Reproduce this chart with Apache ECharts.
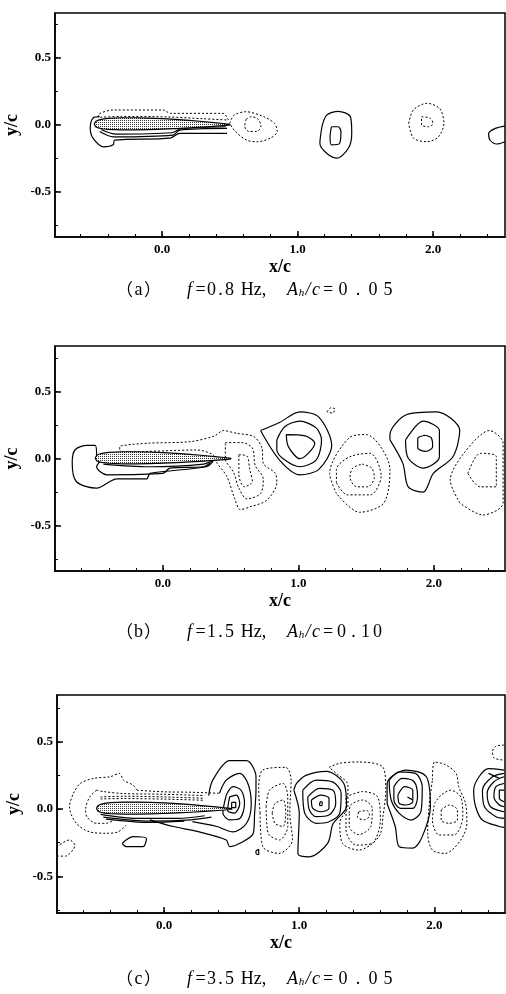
<!DOCTYPE html>
<html>
<head>
<meta charset="utf-8">
<script src="https://cdn.jsdelivr.net/npm/echarts@6/dist/echarts.min.js"></script>
<style>
  html, body { margin: 0; padding: 0; background: #fff; }
  #chart { width: 506px; height: 994px; }
</style>
</head>
<body>
<div id="chart"></div>
<script>
// ---- axes ----
const xMinorTicks = [-0.6, -0.4, -0.2, 0, 0.2, 0.4, 0.6, 0.8, 1.0, 1.2, 1.4, 1.6, 1.8, 2.0, 2.2, 2.4];
const xMajorTicks = [0, 1, 2];
const yMinorTicks = [-0.75, -0.5, -0.25, 0, 0.25, 0.5, 0.75];
const yMajorTicks = [-0.5, 0, 0.5];

// ---- airfoil (chord -0.5 .. 0.5) ----
const foilX  = [-0.5, -0.49, -0.47, -0.44, -0.4, -0.3, -0.2, -0.1, 0.0, 0.1, 0.2, 0.3, 0.4, 0.45, 0.5];
const foilUp = [0.005, 0.025, 0.035, 0.042, 0.047, 0.052, 0.052, 0.05, 0.046, 0.04, 0.033, 0.024, 0.014, 0.009, 0.003];
const foilLo = [0.005, -0.015, -0.024, -0.03, -0.034, -0.038, -0.038, -0.036, -0.033, -0.029, -0.024, -0.018, -0.011, -0.007, -0.002];

// ---- captions ----
const captions = [
  { tag: 'a', f: '0.8', amp: '0.05' },
  { tag: 'b', f: '1.5', amp: '0.10' },
  { tag: 'c', f: '3.5', amp: '0.05' },
];

// ---- (a) f=0.8Hz ----
const aSolid = [
  [[-0.46, 0.06], [-0.51, 0.05], [-0.53, -0.025], [-0.51, -0.10], [-0.43, -0.165], [-0.36, -0.15], [-0.35, -0.115], [0.06, -0.10], [0.13, -0.065], [0.48, -0.065]],
  [[-0.46, -0.05], [-0.36, -0.09], [0.08, -0.077], [0.13, -0.04], [0.48, -0.027]],
  [[-0.45, -0.035], [-0.34, -0.07], [0.07, -0.06], [0.14, -0.03], [0.47, -0.015]],
  [[1.18, -0.015], [1.215, 0.072], [1.30, 0.10], [1.39, 0.06], [1.40, -0.065], [1.375, -0.176], [1.29, -0.25], [1.215, -0.213], [1.165, -0.14], [1.18, -0.015]],
  [[1.25, -0.015], [1.30, -0.015], [1.32, -0.052], [1.31, -0.14], [1.25, -0.15], [1.24, -0.09], [1.25, -0.015]],
  [[2.53, -0.01], [2.46, -0.027], [2.41, -0.065], [2.42, -0.114], [2.47, -0.144], [2.53, -0.127]],
];
const aDashed = [
  [[-0.47, 0.055], [-0.47, 0.072], [-0.36, 0.11], [0.01, 0.11], [0.06, 0.085], [0.45, 0.085], [0.49, 0.035], [0.3, 0.045], [0.05, 0.058], [-0.3, 0.062], [-0.47, 0.055]],
  [[0.50, 0.01], [0.53, 0.07], [0.62, 0.097], [0.75, 0.06], [0.83, 0.01], [0.85, -0.05], [0.80, -0.10], [0.70, -0.127], [0.625, -0.115], [0.54, -0.05], [0.50, 0.01]],
  [[0.62, 0.04], [0.66, 0.06], [0.71, 0.04], [0.73, -0.01], [0.70, -0.05], [0.64, -0.05], [0.61, -0.01], [0.62, 0.04]],
  [[1.82, 0.01], [1.855, 0.11], [1.955, 0.16], [2.05, 0.12], [2.08, 0.01], [2.04, -0.09], [1.955, -0.127], [1.855, -0.10], [1.82, 0.01]],
  [[1.915, 0.06], [1.98, 0.048], [2.0, 0.01], [1.965, -0.015], [1.915, 0.0], [1.915, 0.06]],
];

// ---- (b) f=1.5Hz ----
const bSolid = [
  [[-0.49, 0.02], [-0.50, 0.10], [-0.56, 0.10], [-0.65, 0.065], [-0.67, -0.03], [-0.64, -0.17], [-0.49, -0.22], [-0.34, -0.15], [-0.12, -0.15], [-0.096, -0.11], [0.32, -0.06], [0.37, -0.02]],
  [[-0.465, -0.02], [-0.49, -0.06], [-0.415, -0.12], [0.0, -0.11], [0.05, -0.07], [0.30, -0.06], [0.35, -0.03]],
  [[-0.44, -0.04], [-0.1, -0.06], [0.3, -0.04], [0.38, -0.01]],
  [[0.72, 0.21], [0.86, 0.27], [1.01, 0.35], [1.15, 0.31], [1.245, 0.10], [1.15, -0.08], [1.01, -0.12], [0.86, -0.01], [0.72, 0.21]],
  [[0.84, 0.14], [0.90, 0.24], [1.01, 0.28], [1.13, 0.23], [1.17, 0.14], [1.13, -0.01], [1.01, -0.06], [0.84, 0.065], [0.84, 0.14]],
  [[0.91, 0.18], [1.05, 0.17], [1.12, 0.115], [1.01, 0.0], [0.925, 0.09], [0.91, 0.18]],
  [[1.675, 0.14], [1.675, 0.18], [1.80, 0.33], [2.02, 0.35], [2.19, 0.21], [2.14, 0.015], [1.995, -0.11], [1.92, -0.25], [1.81, -0.21], [1.77, -0.035], [1.675, 0.14]],
  [[1.79, 0.14], [1.92, 0.28], [2.04, 0.21], [2.04, 0.015], [1.92, -0.07], [1.81, 0.003], [1.79, 0.14]],
  [[1.93, 0.175], [1.98, 0.155], [1.99, 0.09], [1.94, 0.055], [1.88, 0.08], [1.88, 0.15], [1.93, 0.175]],
];
const bDashed = [
  [[-0.32, 0.07], [-0.32, 0.09], [-0.12, 0.115], [0.2, 0.127], [0.38, 0.17], [0.445, 0.21], [0.54, 0.19], [0.67, 0.165], [0.73, 0.08], [0.74, -0.035], [0.83, -0.11], [0.84, -0.18], [0.765, -0.31], [0.64, -0.36], [0.57, -0.38], [0.53, -0.30], [0.47, -0.13], [0.40, -0.035], [0.37, 0.028], [0.25, 0.065], [-0.29, 0.05], [-0.32, 0.07]],
  [[0.46, 0.12], [0.58, 0.12], [0.66, 0.08], [0.68, -0.05], [0.74, -0.15], [0.72, -0.26], [0.62, -0.30], [0.56, -0.22], [0.52, -0.10], [0.46, 0.0], [0.46, 0.12]],
  [[0.56, 0.03], [0.62, 0.02], [0.64, -0.08], [0.66, -0.17], [0.60, -0.21], [0.56, -0.12], [0.56, 0.03]],
  [[1.28, -0.26], [1.23, -0.11], [1.38, 0.16], [1.50, 0.18], [1.675, -0.08], [1.63, -0.33], [1.45, -0.40], [1.28, -0.26]],
  [[1.28, -0.18], [1.28, -0.08], [1.38, 0.015], [1.53, 0.04], [1.61, -0.13], [1.53, -0.27], [1.36, -0.27], [1.28, -0.18]],
  [[1.47, -0.04], [1.54, -0.07], [1.56, -0.14], [1.51, -0.21], [1.43, -0.21], [1.38, -0.14], [1.40, -0.07], [1.47, -0.04]],
  [[2.19, -0.33], [2.12, -0.16], [2.22, 0.04], [2.41, 0.21], [2.51, 0.115], [2.51, -0.33], [2.36, -0.42], [2.19, -0.33]],
  [[2.25, -0.11], [2.34, 0.04], [2.46, 0.015], [2.46, -0.21], [2.34, -0.21], [2.25, -0.11]],
  [[1.21, 0.35], [1.24, 0.38], [1.27, 0.37], [1.25, 0.34], [1.21, 0.35]],
];

// ---- (c) f=3.5Hz ----
const cSolid = [
  [[-0.47, -0.04], [-0.2, -0.07], [0.1, -0.07], [0.3, -0.05]],
  [[-0.45, -0.06], [-0.1, -0.09], [0.2, -0.08], [0.35, -0.06]],
  [[-0.43, -0.075], [-0.1, -0.1], [0.15, -0.09]],
  [[-0.31, -0.255], [-0.23, -0.205], [-0.13, -0.22], [-0.155, -0.28], [-0.28, -0.28], [-0.31, -0.255]],
  [[0.33, 0.10], [0.36, 0.215], [0.485, 0.36], [0.61, 0.36], [0.68, 0.24], [0.68, 0.14], [0.67, -0.03], [0.66, -0.18], [0.56, -0.255], [0.485, -0.28], [0.46, -0.23], [0.26, -0.17], [0.07, -0.13], [-0.105, -0.08]],
  [[0.41, 0.117], [0.46, 0.215], [0.56, 0.265], [0.62, 0.19], [0.645, 0.04], [0.61, -0.106], [0.51, -0.17], [0.39, -0.13], [0.21, -0.094]],
  [[0.46, 0.104], [0.51, 0.166], [0.57, 0.14], [0.595, 0.04], [0.56, -0.07], [0.485, -0.08], [0.435, -0.03], [0.46, 0.104]],
  [[0.485, 0.09], [0.535, 0.104], [0.56, 0.04], [0.52, -0.03], [0.47, -0.01], [0.485, 0.09]],
  [[0.50, 0.05], [0.53, 0.05], [0.53, 0.01], [0.50, 0.01], [0.50, 0.05]],
  [[0.96, 0.14], [0.98, 0.19], [1.05, 0.25], [1.20, 0.28], [1.33, 0.19], [1.35, 0.02], [1.25, -0.11], [1.21, -0.255], [1.075, -0.355], [0.99, -0.33], [1.0, -0.03], [0.96, 0.14]],
  [[1.026, 0.14], [1.125, 0.215], [1.25, 0.20], [1.31, 0.117], [1.30, -0.03], [1.22, -0.094], [1.125, -0.106], [1.04, -0.03], [1.026, 0.14]],
  [[1.063, 0.09], [1.15, 0.154], [1.25, 0.14], [1.27, 0.04], [1.22, -0.045], [1.125, -0.057], [1.075, -0.007], [1.063, 0.09]],
  [[1.09, 0.067], [1.16, 0.104], [1.22, 0.08], [1.22, 0.005], [1.16, -0.02], [1.10, 0.005], [1.09, 0.067]],
  [[1.155, 0.055], [1.17, 0.05], [1.165, 0.025], [1.15, 0.03], [1.155, 0.055]],
  [[1.65, 0.04], [1.65, 0.19], [1.79, 0.29], [1.94, 0.24], [1.97, 0.017], [1.91, -0.205], [1.84, -0.29], [1.74, -0.28], [1.71, -0.13], [1.65, 0.04]],
  [[1.665, 0.215], [1.74, 0.277], [1.86, 0.265], [1.91, 0.166], [1.90, -0.02], [1.826, -0.082], [1.74, -0.032], [1.68, 0.067], [1.665, 0.215]],
  [[1.70, 0.166], [1.76, 0.228], [1.85, 0.203], [1.875, 0.09], [1.84, 0.005], [1.75, 0.005], [1.70, 0.067], [1.70, 0.166]],
  [[1.73, 0.104], [1.78, 0.166], [1.84, 0.14], [1.84, 0.054], [1.79, 0.03], [1.74, 0.042], [1.73, 0.104]],
  [[1.80, 0.09], [1.835, 0.07]],
  [[2.515, 0.29], [2.40, 0.30], [2.33, 0.24], [2.29, 0.14], [2.305, 0.017], [2.355, -0.082], [2.48, -0.13], [2.515, -0.136]],
  [[2.515, 0.265], [2.43, 0.24], [2.355, 0.14], [2.37, 0.017], [2.455, -0.057], [2.515, -0.07]],
  [[2.515, 0.24], [2.44, 0.203], [2.39, 0.117], [2.415, 0.017], [2.515, -0.02]],
  [[2.515, 0.19], [2.455, 0.166], [2.44, 0.09], [2.48, 0.03], [2.515, 0.017]],
  [[2.515, 0.14], [2.48, 0.14], [2.48, 0.08], [2.515, 0.054]],
  [[2.40, 0.265], [2.48, 0.228]],
  [[0.68, -0.31], [0.70, -0.30], [0.70, -0.34], [0.68, -0.33], [0.68, -0.31]],
];
const cDashed = [
  [[-0.20, 0.14], [-0.23, 0.178], [-0.30, 0.215], [-0.33, 0.265], [-0.40, 0.24], [-0.52, 0.228], [-0.62, 0.19], [-0.67, 0.117], [-0.70, 0.017], [-0.65, -0.106], [-0.55, -0.17], [-0.425, -0.18], [-0.34, -0.17], [-0.28, -0.12]],
  [[-0.20, 0.14], [0.0, 0.128], [0.2, 0.125], [0.41, 0.117]],
  [[-0.50, 0.14], [-0.55, 0.09], [-0.58, 0.0], [-0.57, -0.06], [-0.50, -0.106], [-0.425, -0.106], [-0.37, -0.08]],
  [[-0.50, 0.14], [-0.45, 0.13], [-0.3, 0.115], [0.0, 0.11], [0.3, 0.1]],
  [[-0.47, 0.09], [-0.3, 0.095], [0.0, 0.09], [0.3, 0.08]],
  [[-0.47, 0.075], [-0.3, 0.078], [0.0, 0.074], [0.3, 0.065]],
  [[-0.795, -0.28], [-0.70, -0.23], [-0.66, -0.27], [-0.73, -0.35], [-0.795, -0.35]],
  [[0.71, -0.03], [0.70, 0.15], [0.73, 0.29], [0.90, 0.31], [0.94, 0.215], [0.93, -0.03], [0.95, -0.23], [0.85, -0.33], [0.73, -0.28], [0.71, -0.03]],
  [[0.755, 0.017], [0.78, 0.14], [0.88, 0.19], [0.915, 0.09], [0.915, -0.13], [0.855, -0.23], [0.77, -0.18], [0.755, 0.017]],
  [[0.80, -0.03], [0.82, 0.04], [0.88, 0.067], [0.90, -0.03], [0.88, -0.13], [0.82, -0.106], [0.80, -0.03]],
  [[1.22, 0.31], [1.30, 0.34], [1.44, 0.35], [1.62, 0.31], [1.64, 0.14], [1.62, -0.05], [1.59, -0.205], [1.44, -0.305], [1.32, -0.255], [1.30, -0.10], [1.36, 0.02], [1.36, 0.18], [1.28, 0.26], [1.22, 0.31]],
  [[1.346, 0.09], [1.47, 0.13], [1.58, 0.09], [1.60, -0.08], [1.54, -0.255], [1.42, -0.268], [1.346, -0.156], [1.346, 0.09]],
  [[1.37, -0.03], [1.38, 0.03], [1.47, 0.067], [1.54, 0.005], [1.53, -0.13], [1.44, -0.19], [1.37, -0.13], [1.37, -0.03]],
  [[1.44, -0.02], [1.50, -0.01], [1.52, -0.05], [1.48, -0.08], [1.43, -0.06], [1.44, -0.02]],
  [[1.985, 0.215], [2.0, 0.35], [2.08, 0.33], [2.16, 0.265], [2.18, 0.166], [2.23, 0.042], [2.24, -0.106], [2.195, -0.23], [2.08, -0.33], [1.985, -0.305], [1.95, -0.18], [1.96, 0.017], [1.985, 0.215]],
  [[2.0, 0.042], [2.05, 0.104], [2.12, 0.14], [2.195, 0.09], [2.21, -0.057], [2.145, -0.193], [2.035, -0.193], [1.985, -0.082], [2.0, 0.042]],
  [[2.05, -0.007], [2.11, 0.03], [2.17, -0.007], [2.17, -0.082], [2.11, -0.106], [2.05, -0.082], [2.05, -0.007]],
  [[2.515, 0.475], [2.46, 0.47], [2.43, 0.43], [2.44, 0.38], [2.515, 0.364]],
];

const panels = [
  { solid: aSolid, dashed: aDashed, top: 13, left: 55, height: 224, xMin: -0.79, xMax: 2.531, yMin: -0.838, yMax: 0.834, capTop: 281, numW: 15 },
  { solid: bSolid, dashed: bDashed, top: 346, left: 55, height: 225, xMin: -0.797, xMax: 2.524, yMin: -0.838, yMax: 0.841, capTop: 623, numW: 12 },
  { solid: cSolid, dashed: cDashed, top: 695, left: 57, height: 218, xMin: -0.792, xMax: 2.522, yMin: -0.773, yMax: 0.848, capTop: 970, numW: 15 },
];

// stipple used for the airfoil
const dots = document.createElement('canvas');
dots.width = 2;
dots.height = 2;
const dctx = dots.getContext('2d');
dctx.fillStyle = '#fff';
dctx.fillRect(0, 0, 2, 2);
dctx.fillStyle = '#333';
dctx.fillRect(0, 0, 1, 1);

const serif = "'Liberation Serif', 'DejaVu Serif', serif";
const cjk = "'Noto Sans CJK SC', 'Liberation Serif', serif";

// caption: each glyph gets its own box so the wide typesetting of the scan is kept
const captionText = (c) => {
  const chars = (s, tag) => s.split('').map((ch) => `{${ch === '.' ? tag + 'p' : tag}|${ch}}`).join('');
  return `{par|（}{t|${c.tag}}{par|）}{gap| }{it|f}{eq|=}${chars(c.f, 'd')}{hz|Hz,}{gap2| }`
    + `{A|A}{sub|h}{sl|/}{c|c}{eq2|=}${chars(c.amp, 'n')}`;
};
const captionRich = (numW) => {
  const base = { fontFamily: serif, fontSize: 18, fill: '#000', align: 'center' };
  const ital = { ...base, fontStyle: 'italic' };
  return {
    par: { ...base, fontFamily: cjk, fontSize: 17, width: 18 },
    t: { ...base, width: 10 },
    gap: { ...base, width: 23 },
    it: { ...ital, width: 10 },
    eq: { ...base, width: 12 },
    d: { ...base, width: 10 },
    dp: { ...base, width: 8 },
    hz: { ...base, width: 38, align: 'left' },
    gap2: { ...base, width: 14 },
    A: { ...ital, width: 12 },
    sub: { ...ital, fontSize: 11, width: 6, padding: [7, 0, 0, 0] },
    sl: { ...ital, width: 7 },
    c: { ...ital, width: 9 },
    eq2: { ...base, width: 15 },
    n: { ...base, width: numW },
    np: { ...base, width: numW },
  };
};

const chart = echarts.init(document.getElementById('chart'), null, { renderer: 'canvas' });
const option = {
  backgroundColor: '#fff',
  animation: false,
  grid: [],
  xAxis: [],
  yAxis: [],
  series: [],
  graphic: [],
};

panels.forEach((p, i) => {
  option.grid.push({
    left: p.left, top: p.top, right: 1, height: p.height,
    outerBoundsMode: 'none', containLabel: false,
    show: true, borderColor: '#000', borderWidth: 1.5, backgroundColor: 'transparent',
  });
  option.xAxis.push({
    gridIndex: i, type: 'value', min: p.xMin, max: p.xMax, position: 'bottom',
    axisLine: { onZero: false, lineStyle: { color: '#000', width: 1.5 } },
    axisTick: { inside: true, length: 3, customValues: xMinorTicks, lineStyle: { color: '#000' } },
    axisLabel: {
      customValues: xMajorTicks, formatter: (v) => v.toFixed(1), margin: 6,
      color: '#000', fontFamily: serif, fontWeight: 'bold', fontSize: 13,
    },
    splitLine: { show: false },
    name: 'x/c', nameLocation: 'middle', nameGap: 21,
    nameTextStyle: { color: '#000', fontFamily: serif, fontWeight: 'bold', fontSize: 18 },
  });
  option.xAxis.push({
    gridIndex: i, type: 'value', min: p.xMin, max: p.xMax, position: 'bottom',
    axisLine: { show: false, onZero: false },
    axisTick: { inside: true, length: 6, customValues: xMajorTicks, lineStyle: { color: '#000', width: 1.5 } },
    axisLabel: { show: false },
    splitLine: { show: false },
  });
  option.yAxis.push({
    gridIndex: i, type: 'value', min: p.yMin, max: p.yMax, position: 'left',
    axisLine: { show: true, onZero: false, lineStyle: { color: '#000', width: 1.5 } },
    axisTick: { show: true, inside: true, length: 3, customValues: yMinorTicks, lineStyle: { color: '#000' } },
    axisLabel: {
      customValues: yMajorTicks, formatter: (v) => v.toFixed(1), margin: 4,
      color: '#000', fontFamily: serif, fontWeight: 'bold', fontSize: 13,
    },
    splitLine: { show: false },
    name: 'y/c', nameLocation: 'middle', nameGap: 34, nameRotate: 90, nameMoveOverlap: false,
    nameTextStyle: { color: '#000', fontFamily: serif, fontWeight: 'bold', fontSize: 18 },
  });
  option.yAxis.push({
    gridIndex: i, type: 'value', min: p.yMin, max: p.yMax, position: 'left',
    axisLine: { show: false, onZero: false },
    axisTick: { show: true, inside: true, length: 6, customValues: yMajorTicks, lineStyle: { color: '#000', width: 1.5 } },
    axisLabel: { show: false },
    splitLine: { show: false },
  });

  const addLines = (loops, dashed) => {
    loops.forEach((pts) => {
      option.series.push({
        type: 'line', xAxisIndex: i * 2, yAxisIndex: i * 2, data: pts,
        symbol: 'none', smooth: 0.3, silent: true, z: 3,
        lineStyle: { color: '#000', width: dashed ? 1 : 1.2, type: dashed ? [2, 2] : 'solid' },
      });
    });
  };
  addLines(p.solid, false);
  addLines(p.dashed, true);

  const foil = foilX.map((x, k) => [x, foilUp[k]])
    .concat(foilX.slice().reverse().map((x, k) => [x, foilLo[foilX.length - 1 - k]]));
  option.series.push({
    type: 'custom', xAxisIndex: i * 2, yAxisIndex: i * 2, data: [0], silent: true, z: 4,
    renderItem: (params, api) => ({
      type: 'polygon',
      shape: { points: foil.map((q) => api.coord(q)) },
      style: { fill: { image: dots, repeat: 'repeat' }, stroke: '#000', lineWidth: 1.2 },
    }),
  });

  option.graphic.push({
    type: 'text', left: 116, top: p.capTop,
    style: { text: captionText(captions[i]), rich: captionRich(p.numW) },
  });
});

chart.setOption(option);
</script>
</body>
</html>
